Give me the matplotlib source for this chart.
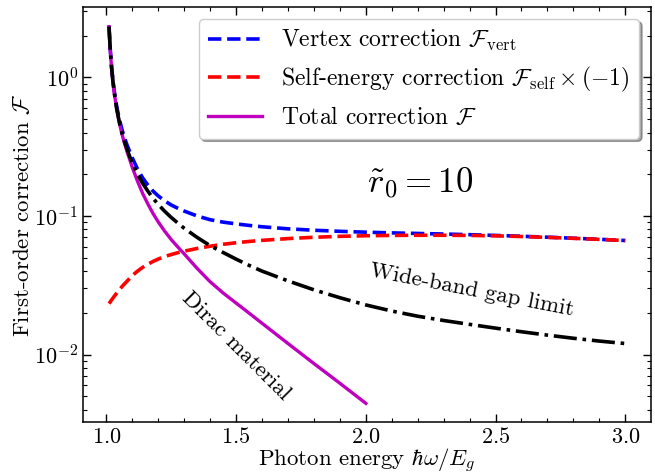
import numpy as np
import matplotlib
matplotlib.use("Agg")
import matplotlib.pyplot as plt
from matplotlib.ticker import AutoMinorLocator, MultipleLocator

plt.rcParams['font.family'] = 'serif'
plt.rcParams['font.serif'] = ['cmr10', 'DejaVu Serif']
plt.rcParams['mathtext.fontset'] = 'cm'
plt.rcParams['axes.formatter.use_mathtext'] = True
plt.rcParams['axes.unicode_minus'] = True

# ---- data ----
x_all = [1.01, 1.015, 1.02, 1.025, 1.03, 1.04, 1.05, 1.06, 1.07, 1.08, 1.09, 1.10,
         1.12, 1.14, 1.16, 1.18, 1.20, 1.225, 1.25, 1.275, 1.30, 1.35, 1.40, 1.45,
         1.50, 1.55, 1.60, 1.70, 1.80, 1.90, 2.00, 2.10, 2.20, 2.30, 2.40, 2.50,
         2.60, 2.70, 2.80, 2.90, 3.00]
vertex = [2.353, 1.584, 1.195, 0.966, 0.806, 0.613, 0.498, 0.421, 0.366, 0.324, 0.291, 0.262,
          0.218, 0.188, 0.167, 0.151, 0.1395, 0.1285, 0.120, 0.1138, 0.1085, 0.100, 0.094, 0.0903,
          0.0877, 0.0855, 0.0836, 0.0808, 0.0789, 0.0775, 0.0764, 0.0755, 0.0748, 0.0741, 0.0733, 0.0724,
          0.0714, 0.0703, 0.0691, 0.0679, 0.0665]
self_energy = [0.0233, 0.0240, 0.0248, 0.0255, 0.0263, 0.0278, 0.0294, 0.0309, 0.0324, 0.0339, 0.0355, 0.0372,
               0.0400, 0.0426, 0.0449, 0.0470, 0.0489, 0.0510, 0.0527, 0.0543, 0.0557, 0.0583, 0.0605, 0.0625,
               0.0641, 0.0655, 0.0667, 0.0687, 0.0702, 0.0713, 0.0720, 0.0724, 0.0726, 0.0726, 0.0724, 0.0719,
               0.0711, 0.0701, 0.0690, 0.0678, 0.0665]
wide_gap = [2.33, 1.56, 1.17, 0.94, 0.785, 0.59, 0.475, 0.398, 0.343, 0.302, 0.268, 0.241,
            0.200, 0.172, 0.151, 0.134, 0.121, 0.108, 0.0975, 0.089, 0.0815, 0.070, 0.061, 0.0545,
            0.0488, 0.0440, 0.0400, 0.0340, 0.0293, 0.0257, 0.0228, 0.0206, 0.0189, 0.0176, 0.0165, 0.0155,
            0.0146, 0.0138, 0.0131, 0.0125, 0.0120]
x_total = [1.01, 1.015, 1.02, 1.025, 1.03, 1.04, 1.05, 1.06, 1.07, 1.08, 1.09, 1.10,
           1.12, 1.14, 1.16, 1.18, 1.20, 1.225, 1.25, 1.275, 1.30, 1.35, 1.40, 1.45,
           1.50, 1.55, 1.60, 1.70, 1.80, 1.90, 2.00]
total = [2.33, 1.56, 1.17, 0.94, 0.78, 0.585, 0.468, 0.39, 0.334, 0.29, 0.255, 0.224,
         0.178, 0.145, 0.122, 0.104, 0.0905, 0.0775, 0.0675, 0.0598, 0.0532, 0.0418, 0.0335, 0.0278,
         0.0235, 0.0199, 0.0168, 0.0120, 0.0086, 0.0062, 0.00444]

fig = plt.figure(figsize=(6.55, 4.76), dpi=100)
ax = fig.add_axes([0.127, 0.113, 0.867, 0.872])

ax.plot(x_all, vertex, '--', color='b', lw=2.6, label=r'Vertex correction $\mathcal{F}_{\rm vert}$')
ax.plot(x_all, self_energy, '--', color='r', lw=2.6,
        label=r'Self-energy correction $\mathcal{F}_{\rm self}\times(-1)$')
ax.plot(x_total, total, '-', color='m', lw=2.4, label=r'Total correction $\mathcal{F}$')
ax.plot(x_all, wide_gap, '-.', color='k', lw=2.6)

ax.set_yscale('log')
ax.xaxis.set_major_locator(MultipleLocator(0.5))
ax.xaxis.set_minor_locator(AutoMinorLocator(5))
ax.tick_params(which='both', direction='in', top=True, right=True, labelsize=16)
ax.tick_params(which='major', length=6, width=1)
ax.tick_params(which='minor', length=3, width=0.8)
for s in ax.spines.values():
    s.set_linewidth(1.1)

ax.set_xlabel(r'Photon energy $\hbar\omega/E_g$', fontsize=16.5, labelpad=0)
ax.set_ylabel(r'First-order correction $\mathcal{F}$', fontsize=16.5, labelpad=1)

ax.text(2.21, 0.173, r'$\tilde{r}_0=10$', fontsize=25, ha='center', va='center')
ax.text(2.41, 0.029, 'Wide-band gap limit', fontsize=16.5, ha='center', va='center', rotation=-11)
ax.text(1.50, 0.0116, 'Dirac material', fontsize=16.5, ha='center', va='center', rotation=-45)

leg = ax.legend(loc='upper right', fontsize=17, handlelength=2.3, shadow=True,
                fancybox=True, framealpha=1.0)
leg.get_frame().set_edgecolor('0.8')

fig.savefig('out.png', dpi=100)
